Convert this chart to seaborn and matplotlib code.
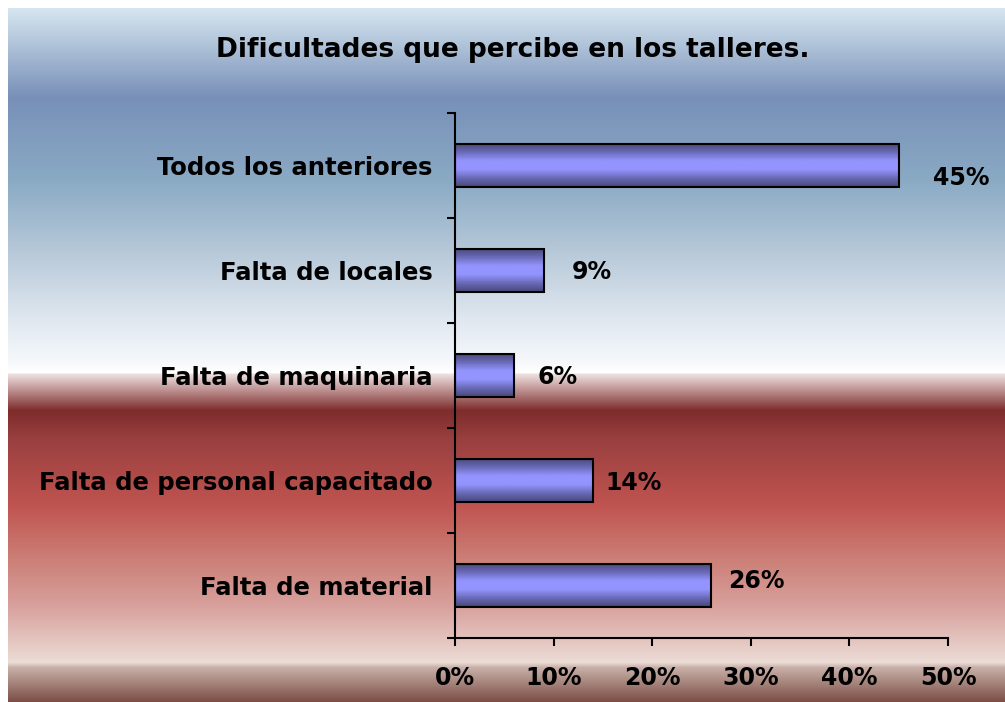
import numpy as np
import pandas as pd
import matplotlib
matplotlib.use("Agg")
import matplotlib.pyplot as plt
import seaborn as sns
from matplotlib.colors import LinearSegmentedColormap, to_rgb

# ---------------------------
# Data
# ---------------------------
categories = ["Todos los anteriores", "Falta de locales", "Falta de maquinaria",
              "Falta de personal capacitado", "Falta de material"]
values = [45, 9, 6, 14, 26]
labels = ["45%", "9%", "6%", "14%", "26%"]
xticks = [0, 10, 20, 30, 40, 50]

df = pd.DataFrame({"cat": categories, "val": values})

sns.set_theme(style="white")
plt.rcParams["font.family"] = ["DejaVu Sans"]
plt.rcParams["text.color"] = "black"
plt.rcParams["xtick.color"] = "black"
plt.rcParams["ytick.color"] = "black"
plt.rcParams["xtick.labelcolor"] = "black"
plt.rcParams["ytick.labelcolor"] = "black"
FS = 17.5

fig = plt.figure(figsize=(10.05, 7.02), dpi=100)

# ---------------------------
# Background gradient (y in px from top of figure)
# ---------------------------
stops = [(8, "#d6e6f0"), (97, "#7890b8"), (180, "#8aaac4"), (250, "#b6c8d8"),
         (320, "#e0e8f0"), (365, "#f8fafc"), (372, "#ffffff"), (374, "#eedede"),
         (410, "#7e2c2c"), (440, "#9a4040"), (505, "#c05450"), (560, "#cc8078"),
         (605, "#d8a09c"), (662, "#ecdcd6"), (667, "#c8b0a8"), (702, "#7a4c44")]
ys = np.arange(8, 702)
sp = np.array([s[0] for s in stops])
cols = np.array([to_rgb(s[1]) for s in stops])
grad = np.stack([np.interp(ys, sp, cols[:, k]) for k in range(3)], axis=1)
bg = fig.add_axes([8 / 1005, 0, 1 - 8 / 1005, 1 - 8 / 702], zorder=-1)
bg.imshow(grad[:, None, :], aspect="auto", interpolation="bilinear")
bg.set_axis_off()

# ---------------------------
# Bars
# ---------------------------
ax = fig.add_axes([455 / 1005, 1 - 638 / 702, 493 / 1005, 525 / 702])
ax.patch.set_alpha(0)
sns.barplot(data=df, x="val", y="cat", orient="h", width=0.41,
            color="#9090ff", edgecolor="black", linewidth=1.5, ax=ax)

bar_cmap = LinearSegmentedColormap.from_list(
    "bar", ["#484878", "#6a6ab8", "#9494ff", "#9494ff", "#6a6ab8", "#484878"])
g = np.linspace(0, 1, 64)[:, None]
for p in ax.patches:
    x0, y0 = p.get_x(), p.get_y()
    w, h = p.get_width(), p.get_height()
    im = ax.imshow(g, cmap=bar_cmap, aspect="auto", extent=[x0, x0 + w, y0 + h, y0],
                   zorder=1.5, interpolation="bilinear")
    im.set_clip_path(p)
    p.set_facecolor("none")
    p.set_zorder(2)

ax.set_xlim(0, 50)
ax.set_ylim(4.5, -0.5)

# data labels
offsets = [(25, -9), (20, -1), (17, -1), (9, -2), (12, 3)]
for i, (v, lab) in enumerate(zip(values, labels)):
    ax.annotate(lab, (v, i), xytext=offsets[i], textcoords="offset points",
                ha="left", va="center", fontsize=17, fontweight="bold")

# ---------------------------
# Axes styling
# ---------------------------
for s in ["top", "right"]:
    ax.spines[s].set_visible(False)
for s in ["left", "bottom"]:
    ax.spines[s].set_linewidth(1.5)
    ax.spines[s].set_color("black")

ax.set_xticks(xticks)
ax.set_xticklabels([f"{t}%" for t in xticks], fontsize=17, fontweight="bold")
ax.tick_params(axis="x", direction="out", length=6, width=1.5, pad=14, bottom=True)
ax.set_yticks(range(len(categories)))
ax.set_yticklabels(categories, fontsize=FS, fontweight="bold")
ax.tick_params(axis="y", length=0, pad=16)
ax.set_yticks(np.arange(-0.5, 5, 1), minor=True)
ax.tick_params(axis="y", which="minor", direction="out", length=6, width=1.5, left=True)
ax.set_xlabel("")
ax.set_ylabel("")

fig.text(513 / 1005, 1 - 50 / 702, "Dificultades que percibe en los talleres.",
         ha="center", va="center", fontsize=19, fontweight="bold")

fig.savefig("out.png", dpi=100)
